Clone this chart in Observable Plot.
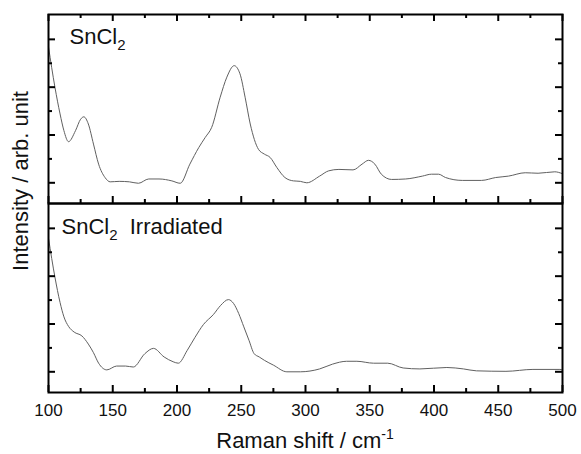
<!DOCTYPE html>
<html><head><meta charset="utf-8">
<script src="https://cdn.jsdelivr.net/npm/d3@7"></script>
<script src="https://cdn.jsdelivr.net/npm/@observablehq/plot@0.6"></script>
<style>body{margin:0;background:#fff} svg{display:block}</style>
</head><body><div id="chart"></div>
<script>
const panels = ["SnCl2", "SnCl2  Irradiated"];

const pristineShift = [100,105,109,112,115.6,121,125,127.5,131,135,139,144,148,155,163,170,178,186,196,202.5,210,217,222,227,233.6,238.8,244.5,249,253,257,263.4,268,272.5,277.7,284,290.6,296,301,311,318,326,337,344,349,354,359,367,378,391,398,403.5,409,422,437,448,458,471,481,494,500];
const pristineIntensity = [3.84,3.00,2.44,2.09,1.86,2.09,2.33,2.38,2.23,1.81,1.39,1.11,1.02,1.03,1.02,0.99,1.08,1.08,1.04,0.99,1.39,1.74,1.95,2.16,2.79,3.21,3.45,3.28,2.79,2.23,1.70,1.60,1.53,1.32,1.11,1.04,1.03,1.00,1.14,1.25,1.28,1.27,1.39,1.47,1.39,1.18,1.07,1.08,1.14,1.18,1.18,1.11,1.05,1.05,1.11,1.14,1.21,1.20,1.23,1.19];

const irradiatedShift = [100,105,109,112,115.6,120,126,131,135,139,145.4,153,160,166,175,181.7,190,197,201,208,214,220.6,228.4,234,240,244,248,252,256,260,264,268,275,285.5,296,311,321,332,340,353,364,376,389,410,423,433,456,477,498,500];
const irradiatedIntensity = [3.79,2.98,2.45,2.15,1.95,1.83,1.75,1.58,1.40,1.18,1.04,1.12,1.12,1.10,1.38,1.49,1.31,1.21,1.18,1.45,1.72,1.99,2.20,2.39,2.51,2.43,2.22,1.94,1.66,1.38,1.31,1.24,1.14,1.00,1.00,1.06,1.16,1.22,1.22,1.18,1.18,1.08,1.06,1.09,1.06,1.02,1.01,1.05,1.05,1.04];

const xMajorTicks = [100,150,200,250,300,350,400,450,500];
const xMinorTicks = [125,175,225,275,325,375,425,475];
const yMajorTicks = [1,2,3,4];
const yMinorTicks = [1.5,2.5,3.5];
const xLabel = "Raman shift / cm";
const xLabelSup = "-1";
const yLabel = "Intensity / arb. unit";

const rows = [
  ...pristineShift.map((w, i) => ({w, v: pristineIntensity[i], panel: panels[0]})),
  ...irradiatedShift.map((w, i) => ({w, v: irradiatedIntensity[i], panel: panels[1]}))
];

const W = 581, H = 454, mL = 48, mR = 19, mT = 14, mB = 62;
const fh = (H - mT - mB) / 2;
const fw = W - mL - mR;
const tickStyle = {stroke: "#000", strokeWidth: 2};

const plot = Plot.plot({
  width: W, height: H,
  marginLeft: mL, marginRight: mR, marginTop: mT, marginBottom: mB,
  style: {fontFamily: "'Liberation Sans', Arial, sans-serif", fontSize: "17px", color: "#111", background: "#fff"},
  x: {domain: [100, 500], label: null},
  y: {domain: [0.567, 4.52], axis: null},
  fy: {domain: panels, axis: null, padding: 0},
  marks: [
    Plot.line(rows, {x: "w", y: "v", fy: "panel", z: "panel", stroke: "#606060", strokeWidth: 1, curve: "monotone-x"}),
    // bottom inward ticks (each panel)
    Plot.tickX(xMajorTicks, {x: d => d, insetTop: fh - 7, ...tickStyle}),
    Plot.tickX(xMinorTicks, {x: d => d, insetTop: fh - 4, ...tickStyle}),
    // top inward ticks (top panel only)
    Plot.tickX(xMajorTicks, {x: d => d, fy: () => panels[0], insetBottom: fh - 7, ...tickStyle}),
    Plot.tickX(xMinorTicks, {x: d => d, fy: () => panels[0], insetBottom: fh - 4, ...tickStyle}),
    // left & right inward ticks
    Plot.tickY(yMajorTicks, {y: d => d, insetRight: fw - 7, ...tickStyle}),
    Plot.tickY(yMinorTicks, {y: d => d, insetRight: fw - 4, ...tickStyle}),
    Plot.tickY(yMajorTicks, {y: d => d, insetLeft: fw - 7, ...tickStyle}),
    Plot.tickY(yMinorTicks, {y: d => d, insetLeft: fw - 4, ...tickStyle}),
    Plot.frame({stroke: "#000", strokeWidth: 2}),
    Plot.axisX(xMajorTicks, {anchor: "bottom", tickSize: 0, tickPadding: 11, fontSize: 17, label: null, fill: "#111"}),
    Plot.text([panels[0]], {fy: d => d, text: d => d, frameAnchor: "top-left", textAnchor: "start", lineAnchor: "top", dx: 21, dy: 14, fontSize: 22, fill: "#111"}),
    Plot.text([panels[1]], {fy: d => d, text: d => d, frameAnchor: "top-left", textAnchor: "start", lineAnchor: "top", dx: 13, dy: 15, fontSize: 22, fill: "#111"})
  ]
});

document.getElementById("chart").appendChild(plot);
const svg = d3.select(plot);

// subscript "2" in SnCl2 labels
svg.selectAll("text").each(function() {
  const t = this.textContent;
  if (t.startsWith("SnCl2") && this.childElementCount === 0) {
    const rest = t.slice(5);
    const sel = d3.select(this);
    sel.text(null);
    sel.append("tspan").text("SnCl");
    sel.append("tspan").attr("font-size", 15).attr("dy", 6).text("2");
    if (rest) sel.append("tspan").attr("dy", -6).attr("xml:space", "preserve").style("white-space", "pre").text(rest);
  }
});

// axis titles
const xt = svg.append("text")
  .attr("x", mL + fw / 2).attr("y", 448)
  .attr("text-anchor", "middle")
  .attr("font-size", 22).attr("fill", "#111")
  .attr("font-family", "'Liberation Sans', Arial, sans-serif");
xt.append("tspan").text(xLabel);
xt.append("tspan").attr("font-size", 14).attr("dy", -9).text(xLabelSup);

svg.append("text")
  .attr("transform", "translate(28,181) rotate(-90)")
  .attr("text-anchor", "middle")
  .attr("font-size", 22).attr("fill", "#111")
  .attr("font-family", "'Liberation Sans', Arial, sans-serif")
  .text(yLabel);
</script>
</body></html>
